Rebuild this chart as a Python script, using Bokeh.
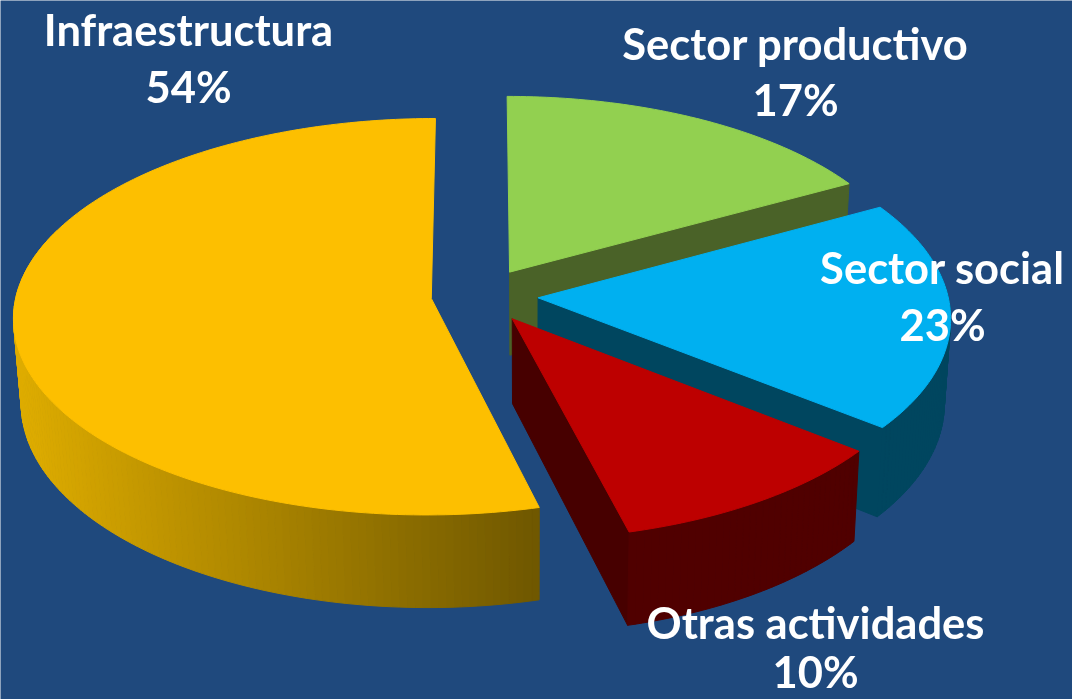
import math
from bokeh.plotting import figure
from bokeh.models import Range1d, ColumnDataSource
from bokeh.core.properties import value
from bokeh.embed import file_html
from bokeh.resources import INLINE

# --- data ---
categories = ["Sector productivo", "Sector social", "Otras actividades", "Infraestructura"]
shown_labels = ["17%", "23%", "10%", "54%"]          # printed on the chart
drawn_shares = [17.0, 18.7, 10.3, 54.0]              # slice sizes as actually drawn

# --- style ---
BG = "#1F497D"
TOP = ["#92D050", "#00B0F0", "#BD0000", "#FDBF00"]
WALL = ["#4A6228", "#00465F", "#500000", None]
CUT = ["#4A6228", "#00465F", "#470000", None]
EXPLODE = [0.14, 0.14, 0.14, 0.12]
GOLD_L, GOLD_R = (222, 172, 0), (112, 88, 0)

# --- projection of the tilted disc ---
CX, CY, A, B, K, XP = 480.0, 295.0, 412.5, 196.0, 0.092, 0.005
H, VX, SHRINK = 84.0, 530.0, 0.985


def top_pt(u, v):
    w = 1 / (1 - K * v)
    return CX + A * u * w * (1 - XP * u), CY + B * v * w


def bot_pt(u, v):
    x, y = top_pt(u, v)
    return VX + (x - VX) * SHRINK, y + H / (1 - K * v)


def disc(th, r=1.0):
    return r * math.sin(th), -r * math.cos(th)


xs, ys, fills = [], [], []


def add(poly, col):
    xs.append([q[0] for q in poly])
    ys.append([q[1] for q in poly])
    fills.append(col)


def mix(a, b, t):
    t = min(max(t, 0), 1)
    return "#%02x%02x%02x" % tuple(round(a[i] + (b[i] - a[i]) * t) for i in range(3))


slices = []
acc = 0.0
total = sum(drawn_shares)
for i, s in enumerate(drawn_shares):
    t0 = acc / total * 2 * math.pi
    acc += s
    t1 = acc / total * 2 * math.pi
    mid = (t0 + t1) / 2
    ox, oy = disc(mid, EXPLODE[i])
    slices.append((i, t0, t1, ox, oy))

# painter's order: back to front
for i, t0, t1, ox, oy in [slices[0], slices[3], slices[1], slices[2]]:
    n = max(8, int(math.degrees(t1 - t0) / 1.0))
    ang = [t0 + (t1 - t0) * j / n for j in range(n + 1)]
    rim = [(ox + disc(a)[0], oy + disc(a)[1]) for a in ang]
    # cut face, only where it faces the viewer
    if CUT[i] and math.sin(t1) > 0:
        e = rim[-1]
        add([top_pt(ox, oy), top_pt(*e), bot_pt(*e), bot_pt(ox, oy)], CUT[i])
    if CUT[i] and math.sin(t0) < 0:
        e = rim[0]
        add([top_pt(ox, oy), top_pt(*e), bot_pt(*e), bot_pt(ox, oy)], CUT[i])
    # outer wall (front part only)
    for j in range(n):
        a, b = rim[j], rim[j + 1]
        if -math.cos(ang[j]) < -0.35 and -math.cos(ang[j + 1]) < -0.35:
            continue
        xm = top_pt(*a)[0]
        col = WALL[i] or mix(GOLD_L, GOLD_R, (xm - 20) / 517)
        add([top_pt(*a), top_pt(*b), bot_pt(*b), bot_pt(*a)], col)
    # top face
    add([top_pt(ox, oy)] + [top_pt(*q) for q in rim], TOP[i])

p = figure(
    width=1072, height=699, output_backend="svg", toolbar_location=None,
    x_range=Range1d(0, 1072), y_range=Range1d(699, 0),
    background_fill_color=BG, border_fill_color=BG, outline_line_color=None,
    min_border=0, styles={"position": "fixed", "left": "0", "top": "0"},
)
p.axis.visible = False
p.grid.visible = False

src = ColumnDataSource(dict(xs=xs, ys=ys, fill=fills))
p.patches("xs", "ys", source=src, fill_color="fill", line_color="fill", line_width=1)

label_pos = [(795, 42, 98), (942, 266, 323), (815, 621, 670), (188, 28, 85)]
tx, ty, tt = [], [], []
for name, pct, (x, y1, y2) in zip(categories, shown_labels, label_pos):
    tx += [x, x]
    ty += [y1, y2]
    tt += [name, pct]
p.text(tx, ty, text=tt, text_color="#FFFFFF", text_font=value("Lato"),
       text_font_style="bold", text_font_size="43.5px",
       text_align="center", text_baseline="middle")

open("out.html", "w").write(file_html(p, INLINE))
